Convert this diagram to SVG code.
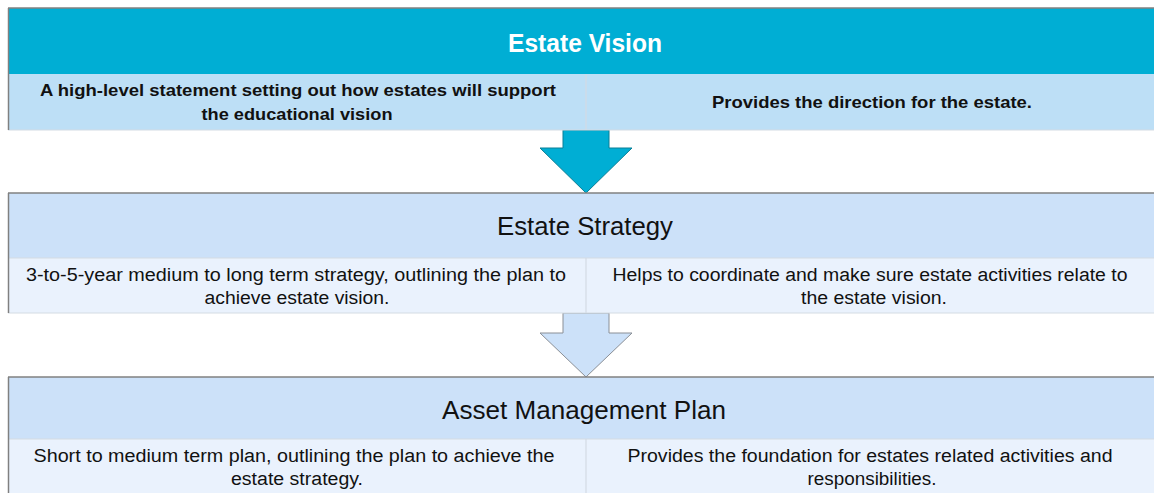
<svg xmlns="http://www.w3.org/2000/svg" width="1154" height="493" viewBox="0 0 1154 493">
<style>
.t{font-family:"Liberation Sans",Arial,sans-serif;fill:#111;text-anchor:middle}
.h{font-size:26px}
.hb{font-size:26px;font-weight:bold;fill:#fff}
.b{font-size:17px;font-weight:bold}
.r{font-size:18px}
.edge{stroke:#808080;stroke-width:1.5;fill:none}
.div{stroke:#d3dbe4;stroke-width:1.2;fill:none}
</style>
<rect width="1154" height="493" fill="#fff"/>
<g id="connectors">
<polygon points="563,130 609,130 609,148 632,148 586,193 540,148 563,148" fill="#00AED4" stroke="#0a7f96" stroke-width="1"/>
<polygon points="563,313 609,313 609,333 632,333 586,377 540,333 563,333" fill="#CCE1F9" stroke="#8a8f96" stroke-width="1"/>
</g>
<g id="estate-vision">
<rect x="8" y="8" width="1146" height="66" fill="#00AED4"/>
<rect x="8" y="74" width="1146" height="56" fill="#BDDFF6"/>
<line class="div" x1="586" y1="74" x2="586" y2="130"/>
<line class="div" x1="8" y1="130" x2="1154" y2="130"/>
<line class="edge" x1="8" y1="8" x2="1154" y2="8"/>
<line class="edge" x1="8.5" y1="8" x2="8.5" y2="130"/>
<text class="t hb" x="585" y="52" textLength="154" lengthAdjust="spacingAndGlyphs">Estate Vision</text>
<text class="t b" x="298" y="96" textLength="516" lengthAdjust="spacingAndGlyphs">A high-level statement setting out how estates will support</text>
<text class="t b" x="297" y="120" textLength="191" lengthAdjust="spacingAndGlyphs">the educational vision</text>
<text class="t b" x="872" y="108" textLength="320" lengthAdjust="spacingAndGlyphs">Provides the direction for the estate.</text>
</g>
<g id="estate-strategy">
<rect x="8" y="193" width="1146" height="65" fill="#CCE1F9"/>
<rect x="8" y="258" width="1146" height="55" fill="#EAF2FD"/>
<line class="div" x1="8" y1="258" x2="1154" y2="258"/>
<line class="div" x1="586" y1="258" x2="586" y2="313"/>
<line class="div" x1="8" y1="313" x2="1154" y2="313"/>
<line class="edge" x1="8" y1="193" x2="1154" y2="193"/>
<line class="edge" x1="8.5" y1="193" x2="8.5" y2="313"/>
<text class="t h" x="585" y="235" textLength="176" lengthAdjust="spacingAndGlyphs">Estate Strategy</text>
<text class="t r" x="296" y="281" textLength="540" lengthAdjust="spacingAndGlyphs">3-to-5-year medium to long term strategy, outlining the plan to</text>
<text class="t r" x="297" y="304" textLength="185" lengthAdjust="spacingAndGlyphs">achieve estate vision.</text>
<text class="t r" x="870" y="281" textLength="515" lengthAdjust="spacingAndGlyphs">Helps to coordinate and make sure estate activities relate to</text>
<text class="t r" x="874" y="304" textLength="146" lengthAdjust="spacingAndGlyphs">the estate vision.</text>
</g>
<g id="asset-management-plan">
<rect x="8" y="377" width="1146" height="62" fill="#CCE1F9"/>
<rect x="8" y="439" width="1146" height="54" fill="#EAF2FD"/>
<line class="div" x1="8" y1="439" x2="1154" y2="439"/>
<line class="div" x1="586" y1="439" x2="586" y2="493"/>
<line class="edge" x1="8" y1="377" x2="1154" y2="377"/>
<line class="edge" x1="8.5" y1="377" x2="8.5" y2="493"/>
<text class="t h" x="584" y="419" textLength="284" lengthAdjust="spacingAndGlyphs">Asset Management Plan</text>
<text class="t r" x="294" y="462" textLength="521" lengthAdjust="spacingAndGlyphs">Short to medium term plan, outlining the plan to achieve the</text>
<text class="t r" x="297" y="485" textLength="132" lengthAdjust="spacingAndGlyphs">estate strategy.</text>
<text class="t r" x="870" y="462" textLength="485" lengthAdjust="spacingAndGlyphs">Provides the foundation for estates related activities and</text>
<text class="t r" x="872" y="485" textLength="129" lengthAdjust="spacingAndGlyphs">responsibilities.</text>
</g>
</svg>
